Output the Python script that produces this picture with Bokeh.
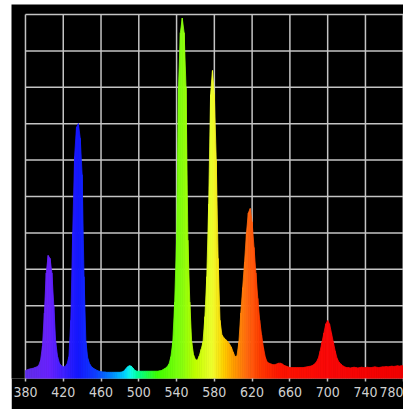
from bokeh.plotting import figure
from bokeh.models import Range1d, FixedTicker, Spacer
from bokeh.layouts import row, column
from bokeh.embed import file_html
from bokeh.resources import INLINE

# ---- data ----
wavelength_nm = list(range(380, 782, 2))
intensity = [
    # 380-398
    0.22, 0.24, 0.26, 0.27, 0.28, 0.30, 0.32, 0.36, 0.50, 0.90,
    # 400-418
    1.80, 2.90, 3.38, 3.30, 2.90, 2.00, 1.00, 0.60, 0.42, 0.35,
    # 420-438
    0.32, 0.33, 0.40, 0.60, 1.60, 4.00, 6.10, 6.90, 7.00, 6.60,
    # 440-458
    5.60, 2.80, 1.00, 0.55, 0.40, 0.32, 0.28, 0.25, 0.22, 0.20,
    # 460-478
    0.19, 0.18, 0.18, 0.17, 0.17, 0.17, 0.17, 0.17, 0.17, 0.17,
    # 480-498
    0.17, 0.18, 0.20, 0.26, 0.32, 0.35, 0.34, 0.28, 0.22, 0.20,
    # 500-518
    0.20, 0.20, 0.20, 0.20, 0.20, 0.20, 0.20, 0.20, 0.20, 0.20,
    # 520-538
    0.20, 0.21, 0.22, 0.25, 0.28, 0.32, 0.40, 0.60, 1.00, 2.10,
    # 540-558
    3.80, 8.00, 9.50, 9.90, 9.50, 8.00, 3.80, 2.10, 1.00, 0.65,
    # 560-578
    0.52, 0.50, 0.62, 0.80, 1.00, 1.70, 2.80, 4.80, 7.80, 8.46,
    # 580-598
    7.80, 6.00, 3.30, 1.60, 1.20, 1.12, 1.07, 1.02, 0.95, 0.86,
    # 600-618
    0.72, 0.60, 0.62, 1.00, 1.80, 2.50, 3.20, 4.00, 4.55, 4.67,
    # 620-638
    4.30, 3.60, 2.90, 2.20, 1.60, 1.20, 0.85, 0.58, 0.45, 0.42,
    # 640-658
    0.40, 0.38, 0.38, 0.40, 0.42, 0.42, 0.40, 0.36, 0.34, 0.32,
    # 660-678
    0.30, 0.30, 0.30, 0.30, 0.30, 0.30, 0.30, 0.30, 0.31, 0.32,
    # 680-698
    0.33, 0.34, 0.36, 0.40, 0.45, 0.55, 0.75, 1.00, 1.25, 1.50,
    # 700-718
    1.59, 1.50, 1.25, 1.00, 0.75, 0.55, 0.45, 0.40, 0.35, 0.32,
    # 720-738
    0.30, 0.30, 0.29, 0.30, 0.31, 0.30, 0.29, 0.30, 0.31, 0.30,
    # 740-758
    0.30, 0.31, 0.30, 0.30, 0.31, 0.32, 0.31, 0.30, 0.31, 0.32,
    # 760-780
    0.32, 0.33, 0.32, 0.33, 0.34, 0.33, 0.34, 0.35, 0.34, 0.35, 0.35,
]
x_ticks = [380, 420, 460, 500, 540, 580, 620, 660, 700, 740, 780]
x_tick_labels = ["380", "420", "460", "500", "540", "580", "620", "660", "700", "740", "780"]
y_grid_levels = [0, 1, 2, 3, 4, 5, 6, 7, 8, 9, 10]

# ---- styling: spectral colour stops ----
stop_nm = [380, 405, 420, 436, 455, 470, 485, 492, 500, 520, 546, 560, 578, 590, 600, 615, 630, 650, 700, 780]
stop_hex = ["#6030e8", "#6a22ff", "#4020ff", "#1418ff", "#1040ff", "#0080ff", "#00d0ff", "#10ffe8",
            "#00ff90", "#40ff00", "#88ff10", "#c0ff00", "#f0ff30", "#ffd000", "#ffa000", "#ff6a10",
            "#ff3800", "#ff1400", "#fa0808", "#f00000"]


def hex_rgb(h):
    return tuple(int(h[i:i + 2], 16) for i in (1, 3, 5))


def spectral_color(nm):
    for i in range(len(stop_nm) - 1):
        a, b = stop_nm[i], stop_nm[i + 1]
        if a <= nm <= b:
            t = (nm - a) / (b - a)
            ca, cb = hex_rgb(stop_hex[i]), hex_rgb(stop_hex[i + 1])
            c = [round(ca[k] + (cb[k] - ca[k]) * t) for k in range(3)]
            return "#%02x%02x%02x" % tuple(c)
    return stop_hex[-1]


p = figure(width=392, height=405, output_backend="svg", toolbar_location=None,
           x_range=Range1d(365.2, 780.3), y_range=Range1d(0, 10.275),
           y_axis_location=None, min_border_left=0, min_border_right=0,
           min_border_top=0, min_border_bottom=31,
           background_fill_color="black", border_fill_color="black",
           outline_line_color=None)
p.xgrid.visible = False
p.ygrid.visible = False

grid_color = "#c4c4c4"
# vertical grid lines
p.segment(x0=x_ticks, y0=[0] * len(x_ticks), x1=x_ticks, y1=[10] * len(x_ticks),
          line_color=grid_color, line_width=1.5)
# horizontal grid lines
p.segment(x0=[380] * len(y_grid_levels), y0=y_grid_levels, x1=[780] * len(y_grid_levels),
          y1=y_grid_levels, line_color=grid_color, line_width=1.5)

# spectrum fill as thin trapezoids coloured by wavelength
xs, ys, cols = [], [], []
for i in range(len(wavelength_nm) - 1):
    x0, x1 = wavelength_nm[i], wavelength_nm[i + 1]
    y0, y1 = intensity[i], intensity[i + 1]
    xs.append([x0, x0, x1, x1])
    ys.append([0, y0, y1, 0])
    cols.append(spectral_color((x0 + x1) / 2))
p.patches(xs=xs, ys=ys, fill_color=cols, line_color=cols, line_width=0.8)

ax = p.xaxis[0]
ax.ticker = FixedTicker(ticks=x_ticks)
ax.major_label_overrides = {t: l for t, l in zip(x_ticks, x_tick_labels)}
ax.axis_line_color = None
ax.major_tick_line_color = grid_color
ax.major_tick_line_width = 1.5
ax.major_tick_out = 3
ax.major_tick_in = 0
ax.minor_tick_line_color = None
ax.major_label_standoff = 5
ax.major_label_text_color = "#d0d0d0"
ax.major_label_text_font = "DejaVu Sans Condensed"
ax.major_label_text_font_size = "14px"

layout = row(Spacer(width=11, height=409),
             column(Spacer(width=392, height=4), p))

open("out.html", "w").write(file_html(layout, INLINE))
